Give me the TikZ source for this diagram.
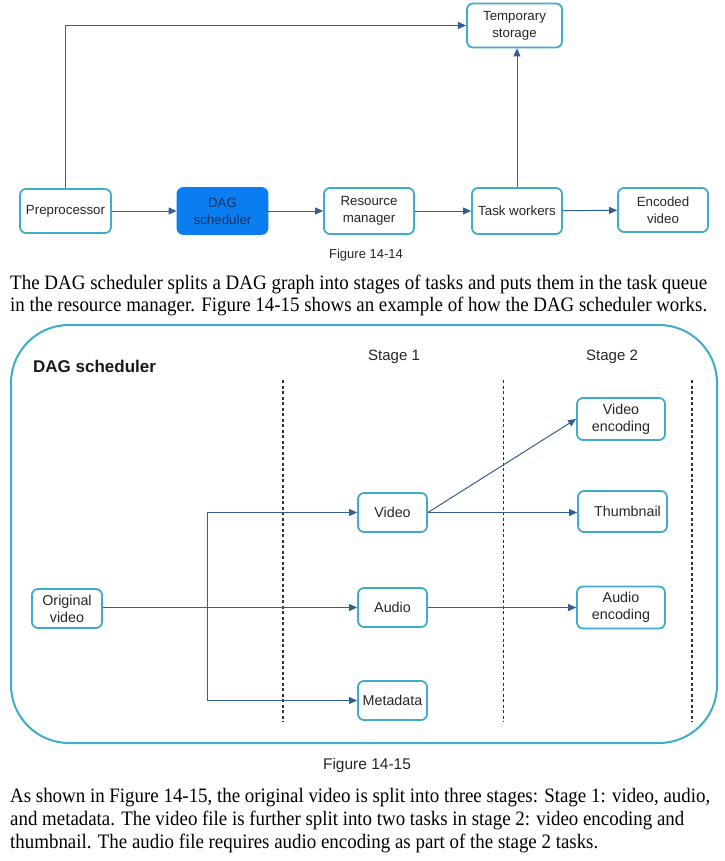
\documentclass[tikz,border=0pt]{standalone}
\usepackage{fontspec}
\usepackage{graphicx}
\setmainfont{Liberation Serif}
\setsansfont{Liberation Sans}
\usetikzlibrary{arrows.meta}
\definecolor{boxc}{RGB}{62,172,202}
\definecolor{arrc}{RGB}{50,95,148}
\definecolor{dagfill}{RGB}{10,125,240}
\definecolor{dagtext}{RGB}{14,52,105}
\definecolor{dashc}{RGB}{50,50,50}
\begin{document}
\begin{tikzpicture}[x=1pt,y=-1pt,
  box/.style={draw=boxc, line width=1.8pt, rounded corners=6pt, fill=white, align=center, inner sep=0pt,
    font=\sffamily\fontsize{13.3}{17}\selectfont, text=black!85},
  bbox/.style={box, font=\sffamily\fontsize{14.3}{17}\selectfont},
  arr/.style={draw=arrc, line width=1pt, -{Triangle[length=8pt,width=7pt]}},
  stagedash/.style={draw=dashc, line width=1.3pt, dash pattern=on 3pt off 2.5pt},
  para/.style={anchor=base west, inner sep=0pt, font=\fontsize{20.5}{23}\selectfont, text=black},
  capt/.style={inner sep=0pt, font=\sffamily\fontsize{13}{15}\selectfont, text=black!85}]
\fill[white] (0,0) rectangle (724,861);
\useasboundingbox (0,0) rectangle (724,861);

% ---------- Figure 14-14 ----------
\node[box, minimum width=95pt, minimum height=44pt] (tmp) at (514.5,25.5) {Temporary\\storage};
\node[box, minimum width=91pt, minimum height=44pt] (pre) at (65.5,211) {Preprocessor};
\node[box, draw=dagfill, fill=dagfill, text=dagtext, minimum width=90pt, minimum height=46pt] (dag) at (222.5,211) {DAG\\scheduler};
\node[box, minimum width=90pt, minimum height=46pt] (res) at (369,211) {Resource\\manager};
\node[box, minimum width=90pt, minimum height=46pt] (tw) at (517,211) {Task workers};
\node[box, minimum width=90pt, minimum height=44pt] (enc) at (663,210) {Encoded\\video};

\draw[arr] (pre.north) |- (tmp.west);
\draw[arr] (tw.north) -- (tw.north |- tmp.south);
\draw[arr] (pre) -- (dag);
\draw[arr] (dag) -- (res);
\draw[arr] (res) -- (tw);
\draw[arr] (tw) -- (enc);

\node[capt] (cap1) at (366,255) {Figure 14-14};

\node[para] (p1a) at (10,289) {\resizebox{697pt}{\height}{The DAG scheduler splits a DAG graph into stages of tasks and puts them in the task queue}};
\node[para] (p1b) at (10,311) {\resizebox{697pt}{\height}{in the resource manager. Figure 14-15 shows an example of how the DAG scheduler works.}};

% ---------- Figure 14-15 ----------
\node[draw=boxc, line width=2pt, rounded corners=58pt, minimum width=706pt, minimum height=418pt, inner sep=0pt] (frame) at (364,534) {};
\node[anchor=west, inner sep=0pt, font=\sffamily\bfseries\fontsize{17}{20}\selectfont, text=black!90] (dagl) at (33,366) {DAG scheduler};
\node[inner sep=0pt, font=\sffamily\fontsize{15}{18}\selectfont, text=black!85] (st1) at (394,357) {Stage 1};
\node[inner sep=0pt, font=\sffamily\fontsize{15}{18}\selectfont, text=black!85] (st2) at (612,357) {Stage 2};

\coordinate (d1t) at (283,380); \coordinate (d1b) at (283,722);
\coordinate (d2t) at (503.5,380); \coordinate (d2b) at (503.5,722);
\coordinate (d3t) at (692,380); \coordinate (d3b) at (692,722);
\draw[stagedash] (d1t) -- (d1b);
\draw[stagedash] (d2t) -- (d2b);
\draw[stagedash] (d3t) -- (d3b);

\node[bbox, minimum width=88pt, minimum height=42pt] (venc) at (621,419) {Video\\encoding};
\node[bbox, minimum width=69pt, minimum height=39pt] (video) at (392.5,512.5) {Video};
\node[bbox, minimum width=89pt, minimum height=41pt] (thumb) at (622.5,511.5) {\hspace*{10pt}Thumbnail};
\node[bbox, minimum width=70pt, minimum height=39pt] (orig) at (67,608.5) {Original\\video};
\node[bbox, minimum width=69pt, minimum height=39pt] (audio) at (392.5,607.5) {Audio};
\node[bbox, minimum width=88pt, minimum height=42pt] (aenc) at (621,607.5) {Audio\\encoding};
\node[bbox, minimum width=69pt, minimum height=39pt] (meta) at (392.5,700.5) {Metadata};

\coordinate (split) at (207,608);
\draw[arr] (orig.east |- audio.west) -- (audio.west);
\draw[arr] (split) |- (video.west);
\draw[arr] (split) |- (meta.west);
\draw[arr] (video.east) -- (venc.west);
\draw[arr] (video.east) -- (video.east -| thumb.west);
\draw[arr] (audio.east) -- (aenc.west);

\node[capt, font=\sffamily\fontsize{15.5}{18}\selectfont] (cap2) at (367,765) {Figure 14-15};

\node[para] (p2a) at (10,802) {\resizebox{700pt}{\height}{As shown in Figure 14-15, the original video is split into three stages: Stage 1: video, audio,}};
\node[para] (p2b) at (10,825) {\resizebox{674pt}{\height}{and metadata. The video file is further split into two tasks in stage 2: video encoding and}};
\node[para] (p2c) at (10,848) {\resizebox{588pt}{\height}{thumbnail. The audio file requires audio encoding as part of the stage 2 tasks.}};
\end{tikzpicture}
\end{document}
